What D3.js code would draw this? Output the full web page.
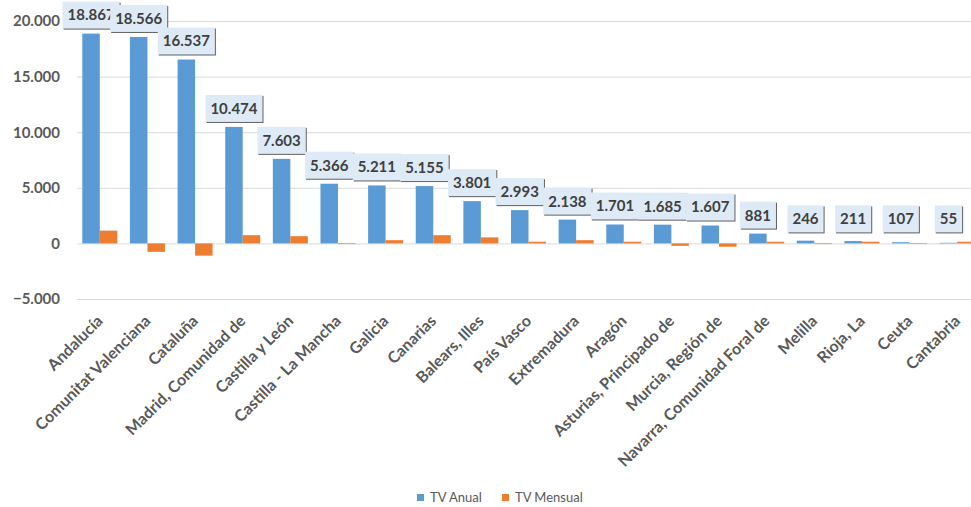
<!DOCTYPE html>
<html lang="es">
<head>
  <meta charset="UTF-8" />
  <title>TV Anual / TV Mensual por comunidad</title>
  <style>
    body { margin: 0; padding: 0; background: #fff; }
    #chart { display: block; }
    text { font-family: Lato, "Open Sans", sans-serif; }
  </style>
  <script src="https://d3js.org/d3.v7.min.js"></script>
</head>
<body>
<svg id="chart" width="971" height="507"></svg>

<script>
const comunidades = [
  "Andalucía", "Comunitat Valenciana", "Cataluña", "Madrid, Comunidad de",
  "Castilla y León", "Castilla - La Mancha", "Galicia", "Canarias",
  "Balears, Illes", "País Vasco", "Extremadura", "Aragón",
  "Asturias, Principado de", "Murcia, Región de", "Navarra, Comunidad Foral de",
  "Melilla", "Rioja, La", "Ceuta", "Cantabria"
];
const tvAnual = [18867, 18566, 16537, 10474, 7603, 5366, 5211, 5155, 3801, 2993, 2138, 1701, 1685, 1607, 881, 246, 211, 107, 55];
const tvMensual = [1150, -760, -1100, 740, 650, -60, 290, 740, 540, 150, 290, 150, -220, -300, 150, -60, 150, -50, 150];
const yTicks = [-5000, 0, 5000, 10000, 15000, 20000];

const series = [
  { key: "anual", name: "TV Anual", values: tvAnual, color: "#5B9BD5" },
  { key: "mensual", name: "TV Mensual", values: tvMensual, color: "#ED7D31" }
];

const W = 971, H = 507;
const svg = d3.select("#chart");

const fmt = d3.formatLocale({ decimal: ",", thousands: ".", grouping: [3], currency: ["", "€"] }).format(",d");

const x0 = d3.scaleBand()
  .domain(comunidades)
  .range([76, 981])
  .paddingInner(0.265)
  .paddingOuter(0.1325);

const x1 = d3.scaleBand()
  .domain(series.map(s => s.key))
  .range([0, x0.bandwidth()]);

const y = d3.scaleLinear()
  .domain([-5000, 20000])
  .range([299, 21]);

// grid + y labels
const yAxis = svg.append("g")
  .attr("transform", "translate(77,0)")
  .call(d3.axisLeft(y).tickValues(yTicks).tickSize(-(W - 77)).tickPadding(17).tickFormat(fmt));
yAxis.select(".domain").remove();
yAxis.selectAll(".tick line").attr("stroke", "#d9d9d9").attr("stroke-width", 1);
yAxis.selectAll(".tick text")
  .attr("fill", "#595959")
  .style("font-size", "15px")
  .style("font-weight", "bold");

// bars
series.forEach(s => {
  svg.append("g")
    .selectAll("rect")
    .data(s.values)
    .join("rect")
    .attr("x", (d, i) => x0(comunidades[i]) + x1(s.key))
    .attr("y", d => y(Math.max(0, d)))
    .attr("width", x1.bandwidth())
    .attr("height", d => Math.abs(y(d) - y(0)))
    .attr("fill", s.color);
});

// data labels (TV Anual)
const labels = svg.append("g");
tvAnual.forEach((v, i) => {
  const cx = x0(comunidades[i]) + x1("anual") + x1.bandwidth() / 2;
  const g = labels.append("g");
  const shadow = g.append("rect").attr("fill", "#606060");
  const box = g.append("rect").attr("fill", "#DEEBF7");
  const t = g.append("text")
    .attr("x", cx)
    .attr("text-anchor", "middle")
    .attr("fill", "#404040")
    .style("font-size", "15px")
    .style("font-weight", "bold")
    .text(fmt(v));
  const tw = t.node().getComputedTextLength();
  const bw = tw + 10, bh = 27;
  const bottom = Math.min(y(v) - 5, y(0) - 11);
  box.attr("x", cx - bw / 2).attr("y", bottom - bh).attr("width", bw).attr("height", bh);
  shadow.attr("x", cx - bw / 2 + 1).attr("y", bottom - bh + 1).attr("width", bw).attr("height", bh);
  t.attr("y", bottom - bh / 2).attr("dy", "0.36em");
});

// x labels, rotated
svg.append("g")
  .selectAll("text")
  .data(comunidades)
  .join("text")
  .attr("transform", d => `translate(${x0(d) + x0.bandwidth() / 2},318) rotate(-45)`)
  .attr("text-anchor", "end")
  .attr("dy", "0.35em")
  .attr("fill", "#595959")
  .style("font-size", "16px")
  .style("font-weight", "bold")
  .text(d => d);

// legend
const legend = svg.append("g");
const legendX = [417, 502];
series.forEach((s, i) => {
  legend.append("rect")
    .attr("x", legendX[i]).attr("y", 494)
    .attr("width", 7).attr("height", 7)
    .attr("fill", s.color);
  legend.append("text")
    .attr("x", legendX[i] + 13).attr("y", 497.5)
    .attr("dy", "0.35em")
    .attr("fill", "#595959")
    .style("font-size", "13px")
    .text(s.name);
});
</script>
</body>
</html>
